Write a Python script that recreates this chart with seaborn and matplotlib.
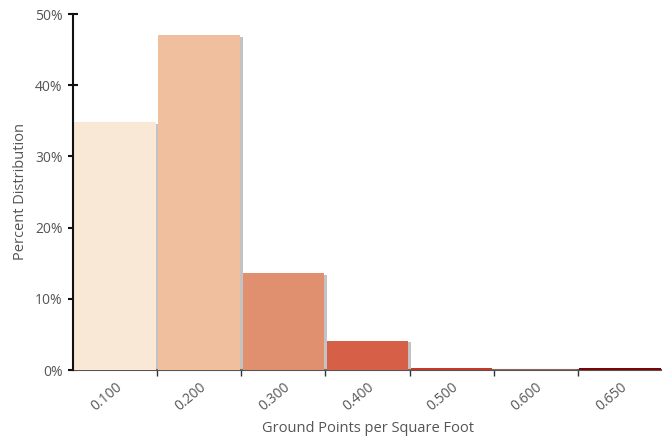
import matplotlib
matplotlib.use('Agg')
import matplotlib.pyplot as plt
import matplotlib.patheffects as pe
from matplotlib.ticker import FixedLocator, PercentFormatter
import seaborn as sns
import pandas as pd

categories = ['0.100', '0.200', '0.300', '0.400', '0.500', '0.600', '0.650']
percents = [34.8, 47.0, 13.6, 4.1, 0.3, 0.1, 0.25]
colors = ['#F9E8D5', '#F0BF9E', '#E0906E', '#D65F47', '#C9392A', '#8C6A62', '#7A0505']

df = pd.DataFrame({'bin': categories, 'pct': percents})

sns.set_style('white')
plt.rcParams['font.family'] = ['Open Sans', 'DejaVu Sans']
text_color = '#555555'

fig = plt.figure(figsize=(6.62, 4.37), dpi=100)
ax = fig.add_axes([73 / 662, 1 - 370 / 437, 1 - 73 / 662, (370 - 14) / 437])

sns.barplot(data=df, x='bin', y='pct', hue='bin', palette=colors, legend=False,
            width=0.97, saturation=1, ax=ax)
for p in ax.patches:
    p.set_linewidth(0)
    p.set_zorder(3)
    p.set_path_effects([pe.SimplePatchShadow(offset=(2, -1), shadow_rgbFace='#888888', alpha=0.5),
                        pe.Normal()])

ax.set_xlim(-0.5, 6.5)
ax.set_ylim(0, 50)
ax.yaxis.set_major_locator(FixedLocator([0, 10, 20, 30, 40, 50]))
ax.yaxis.set_major_formatter(PercentFormatter(decimals=0))

ax.xaxis.set_minor_locator(FixedLocator([0.5, 1.5, 2.5, 3.5, 4.5, 5.5]))
ax.tick_params(axis='x', which='major', length=0, pad=7)
ax.tick_params(axis='x', which='minor', length=4, width=1, color='#333333', direction='out', bottom=True)
ax.tick_params(axis='y', length=7, width=1.5, direction='inout', color='#111111', left=True, pad=4)
plt.setp(ax.get_xticklabels(), rotation=40, ha='right', rotation_mode='anchor')
ax.tick_params(labelsize=10, labelcolor=text_color)

for s in ['top', 'right']:
    ax.spines[s].set_visible(False)
ax.spines['left'].set_color('#111111')
ax.spines['left'].set_linewidth(1.5)
ax.spines['left'].set_zorder(5)
ax.spines['bottom'].set_color('#555555')
ax.spines['bottom'].set_linewidth(1.5)
ax.spines['bottom'].set_zorder(2)

ax.set_xlabel('Ground Points per Square Foot', fontsize=10.5, color=text_color, labelpad=5)
ax.set_ylabel('Percent Distribution', fontsize=10.5, color=text_color, labelpad=5)

fig.savefig('out.png', dpi=100)
